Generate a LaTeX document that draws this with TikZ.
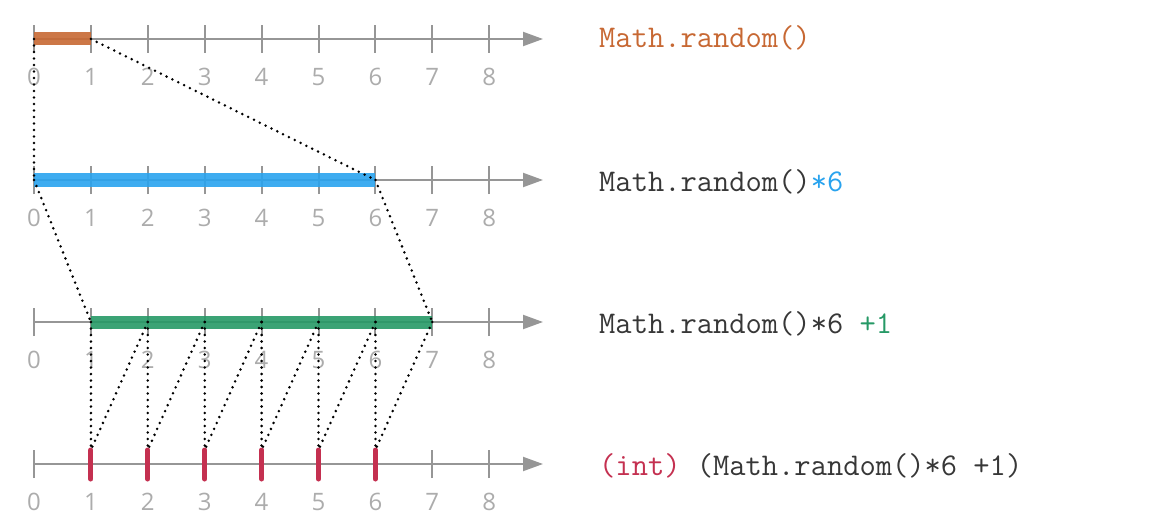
\documentclass[tikz,border=0pt]{standalone}
\usepackage{fontspec}
\usetikzlibrary{arrows.meta}
\newfontfamily\numfont{Open Sans}
\definecolor{axisgray}{RGB}{150,150,150}
\definecolor{numgray}{RGB}{172,172,172}
\definecolor{codegray}{RGB}{55,55,55}
\definecolor{randorange}{RGB}{199,104,51}
\definecolor{timesblue}{RGB}{41,163,238}
\definecolor{plusgreen}{RGB}{38,153,102}
\definecolor{intred}{RGB}{196,48,80}
\tikzset{>={Triangle[length=20pt,width=14pt]}}

\begin{document}
\begin{tikzpicture}[x=1pt,y=-1pt,
    axis/.style={draw=axisgray,line width=2pt},
    numlabel/.style={font=\numfont\fontsize{24}{24}\selectfont,text=numgray,inner sep=0pt},
    code/.style={font=\ttfamily\fontsize{31.6}{31.6}\selectfont,text=codegray,anchor=base west,inner sep=0pt},
    bar/.style={line width=13pt,opacity=0.9},
    link/.style={draw=black,line width=2.8pt,line cap=round,dash pattern=on 0pt off 6.5pt}]
\useasboundingbox (0,0) rectangle (1165,524);

% the four number lines
\foreach \name/\y in {r/39,s/180,t/322,n/464}{
    \foreach \k in {0,...,8}
        \coordinate (\name\k) at ({34+56.9*\k},\y);
    \coordinate (\name end) at (543,\y);
    \draw[axis,->] (\name0) -- (\name end);
    \foreach \k in {0,...,8}{
        \draw[axis] ([yshift=-14pt]\name\k) -- ([yshift=14pt]\name\k);
        \node[numlabel] (\name l\k) at ([yshift=-38pt]\name\k) {\k};
    }
}

% ranges
\draw[bar,randorange] (r0) -- (r1);
\draw[bar,timesblue] (s0) -- (s6);
\draw[bar,plusgreen] (t1) -- (t7);
\foreach \k in {1,...,6}{
    \coordinate (q\k) at ([yshift=14pt]n\k);
    \draw[intred,line width=5pt,line cap=round] ([yshift=-15pt]n\k) -- (q\k);
}

% dotted mapping
\draw[link] (r0) -- (s0);
\draw[link] (r1) -- (s6);
\draw[link] (s0) -- (t1);
\draw[link] (s6) -- (t7);
\foreach \k/\j in {1/2,2/3,3/4,4/5,5/6,6/7}{
    \draw[link] (t\k) -- (q\k);
    \draw[link] (t\j) -- (q\k);
}

% expressions
\node[code,text=randorange] (rcode) at (599,48) {Math.random()};
\node[code] (scode) at (599,191) {Math.random()\textcolor{timesblue}{*6}};
\node[code] (tcode) at (599,333) {Math.random()*6 \textcolor{plusgreen}{+1}};
\node[code] (ncode) at (599,475) {\textcolor{intred}{(int)} (Math.random()*6 +1)};
\end{tikzpicture}
\end{document}
